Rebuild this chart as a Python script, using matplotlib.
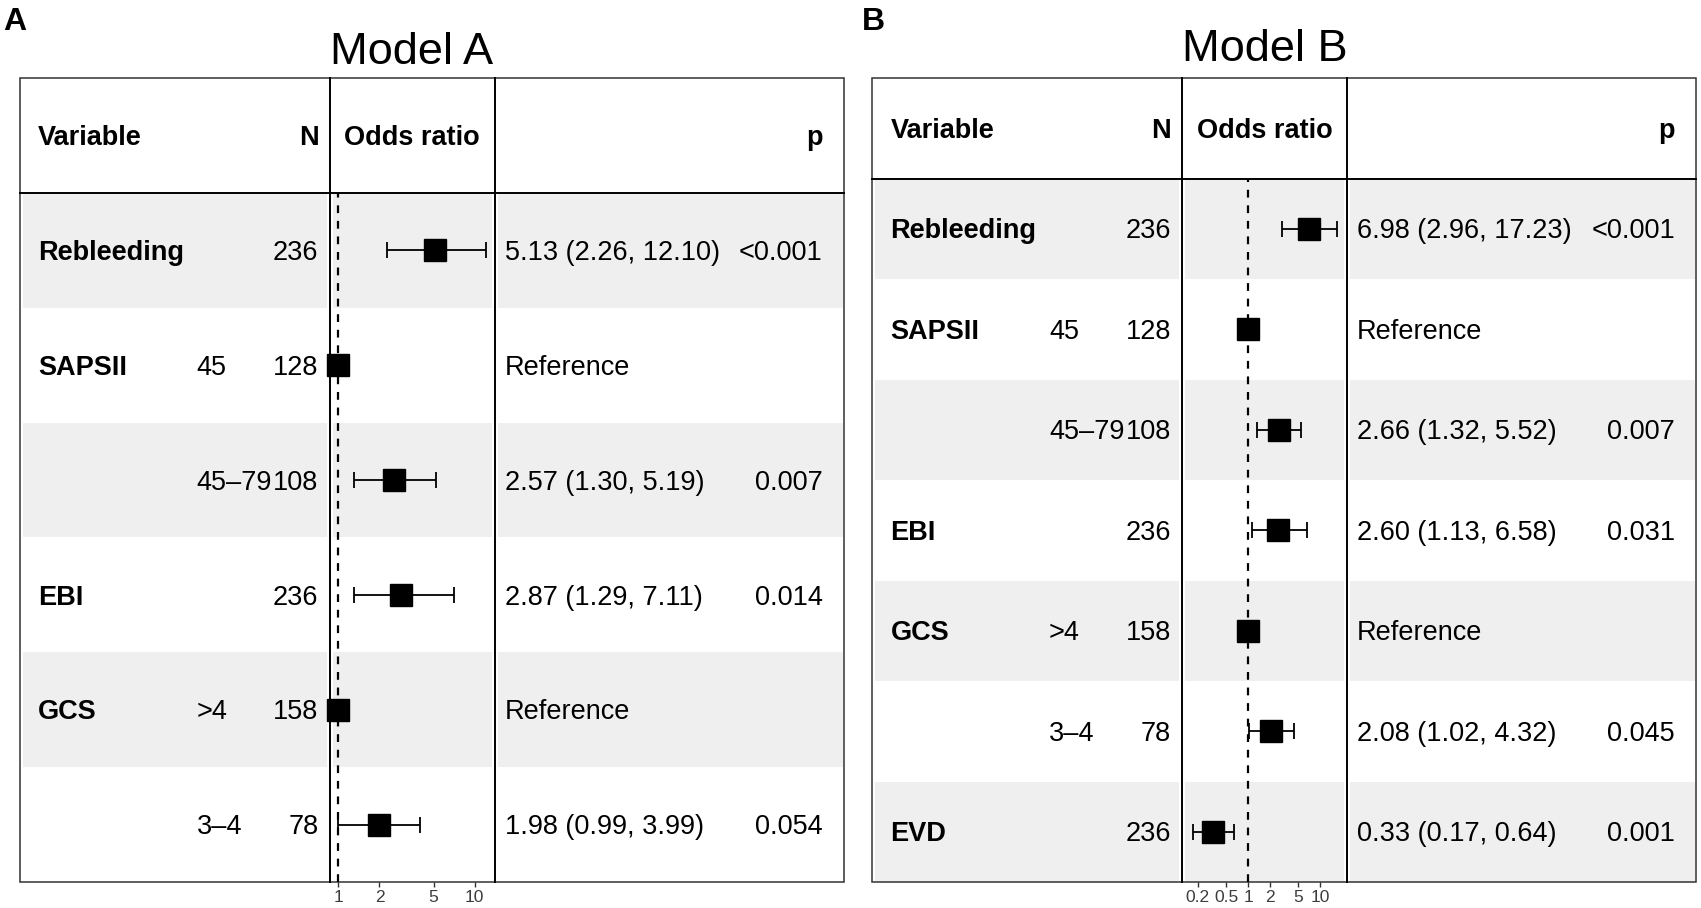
#!/usr/bin/env python3
"""forest plots (Model A / Model B) as table + odds ratio column"""
import matplotlib
matplotlib.use('Agg')
import matplotlib.pyplot as plt
from matplotlib.patches import Rectangle
import numpy as np

plt.rcParams['font.family'] = ['Liberation Sans', 'DejaVu Sans']

# ---- data: Model A
a_var = ['Rebleeding', 'SAPSII', '', 'EBI', 'GCS', '']
a_level = ['', '45', '45–79', '', '>4', '3–4']
a_n = [236, 128, 108, 236, 158, 78]
a_or = [5.13, 1.0, 2.57, 2.87, 1.0, 1.98]
a_lo = [2.26, np.nan, 1.30, 1.29, np.nan, 0.99]
a_hi = [12.10, np.nan, 5.19, 7.11, np.nan, 3.99]
a_p = ['<0.001', '', '0.007', '0.014', '', '0.054']
a_ticks = [1, 2, 5, 10]
a_ticklabels = ['1', '2', '5', '10']

# ---- data: Model B
b_var = ['Rebleeding', 'SAPSII', '', 'EBI', 'GCS', '', 'EVD']
b_level = ['', '45', '45–79', '', '>4', '3–4', '']
b_n = [236, 128, 108, 236, 158, 78, 236]
b_or = [6.98, 1.0, 2.66, 2.60, 1.0, 2.08, 0.33]
b_lo = [2.96, np.nan, 1.32, 1.13, np.nan, 1.02, 0.17]
b_hi = [17.23, np.nan, 5.52, 6.58, np.nan, 4.32, 0.64]
b_p = ['<0.001', '', '0.007', '0.031', '', '0.045', '0.001']
b_ticks = [0.2, 0.5, 1, 2, 5, 10]
b_ticklabels = ['0.2', '0.5', '1', '2', '5', '10']

W, H, DPI = 1701, 908, 100
TOP, BOTTOM, BOX_W = 78, 882, 824
SHADE = '#efefef'
FS = 19.5


def draw_panel(fig, bg, x0, title, letter, title_base, var, level, n, est, lo, hi, pvals,
               xlim, ticks, ticklabels):
	nrows = len(var)
	rh = (BOTTOM - TOP) / (nrows + 1)
	hdr_bot = TOP + rh
	div1, div2, right = x0 + 310, x0 + 475, x0 + BOX_W
	cap = 0.716 * FS * DPI / 72 / 2

	# shaded rows, split per column block
	blocks = [(x0 + 3, div1 - 3), (div1 + 3, div2 - 3), (div2 + 3, right - 1)]
	for i in range(nrows):
		if i % 2 == 0:
			y = hdr_bot + i * rh
			for a, b in blocks:
				bg.add_patch(Rectangle((a, y), b - a, rh, color=SHADE, lw=0, zorder=0))

	# box and dividers
	bg.add_patch(Rectangle((x0, TOP), BOX_W, BOTTOM - TOP, fill=False, ec='#333333', lw=1.1, zorder=3))
	for xd in (div1, div2):
		bg.plot([xd, xd], [TOP, BOTTOM], color='black', lw=1.4, zorder=3)
	bg.plot([x0, right], [hdr_bot, hdr_bot], color='black', lw=1.4, zorder=3)

	# header
	yh = TOP + rh / 2 + cap
	bg.text(x0 + 18.5, yh, 'Variable', fontsize=FS, fontweight='bold', va='baseline')
	bg.text(x0 + 299, yh, 'N', fontsize=FS, fontweight='bold', ha='right', va='baseline')
	bg.text((div1 + div2) / 2, yh, 'Odds ratio', fontsize=FS, fontweight='bold', ha='center', va='baseline')
	bg.text(x0 + 803, yh, 'p', fontsize=FS, fontweight='bold', ha='right', va='baseline')

	# rows
	for i in range(nrows):
		yb = hdr_bot + (i + 0.5) * rh + cap
		bg.text(x0 + 18.5, yb, var[i], fontsize=FS, fontweight='bold', va='baseline')
		bg.text(x0 + 177, yb, level[i], fontsize=FS, va='baseline')
		bg.text(x0 + 299, yb, str(n[i]), fontsize=FS, ha='right', va='baseline')
		if np.isnan(lo[i]):
			txt = 'Reference'
		else:
			txt = f'{est[i]:.2f} ({lo[i]:.2f}, {hi[i]:.2f})'
		bg.text(div2 + 10, yb, txt, fontsize=FS, va='baseline')
		bg.text(x0 + 803, yb, pvals[i], fontsize=FS, ha='right', va='baseline')

	# title + panel letter
	bg.text((div1 + div2) / 2, title_base, title, fontsize=32.5, ha='center', va='baseline')
	bg.text(x0 - 16.5 if letter == 'A' else x0 - 10, 30, letter, fontsize=23, fontweight='bold', va='baseline')

	# odds ratio column
	ax = fig.add_axes([div1 / W, 1 - BOTTOM / H, (div2 - div1) / W, (BOTTOM - hdr_bot) / H])
	ax.patch.set_alpha(0)
	ax.set_xscale('log')
	ax.set_xlim(*xlim)
	ax.set_ylim(nrows - 0.5, -0.5)
	for s in ax.spines.values():
		s.set_visible(False)
	ax.axvline(1, color='black', lw=1.6, ls=(0, (3.5, 3.5)), zorder=1)
	yy = np.arange(nrows)
	est = np.asarray(est)
	lo = np.asarray(lo)
	hi = np.asarray(hi)
	ok = ~np.isnan(lo)
	ax.errorbar(est[ok], yy[ok], xerr=[est[ok] - lo[ok], hi[ok] - est[ok]], fmt='none',
				ecolor='black', elinewidth=1.3, capsize=6, capthick=1.3, zorder=2)
	ax.plot(est, yy, 's', color='black', markersize=16, clip_on=False, zorder=3)
	ax.set_yticks([])
	ax.set_xticks(ticks)
	ax.set_xticklabels(ticklabels)
	ax.xaxis.set_minor_locator(matplotlib.ticker.NullLocator())
	ax.tick_params(axis='x', direction='out', length=3.6, width=1, color='#333333',
				   labelsize=12.5, labelcolor='#3d3d3d', pad=2.5)
	return ax


def main():
	fig = plt.figure(figsize=(W / DPI, H / DPI), dpi=DPI)
	bg = fig.add_axes([0, 0, 1, 1])
	bg.set_xlim(0, W)
	bg.set_ylim(H, 0)
	bg.axis('off')

	draw_panel(fig, bg, 19.5, 'Model A', 'A', 64, a_var, a_level, a_n, a_or, a_lo, a_hi, a_p,
			   (0.859, 14.0), a_ticks, a_ticklabels)
	draw_panel(fig, bg, 872, 'Model B', 'B', 61, b_var, b_level, b_n, b_or, b_lo, b_hi, b_p,
			   (0.121, 23.7), b_ticks, b_ticklabels)

	fig.savefig('out.png', dpi=DPI)


if __name__ == '__main__':
	main()
